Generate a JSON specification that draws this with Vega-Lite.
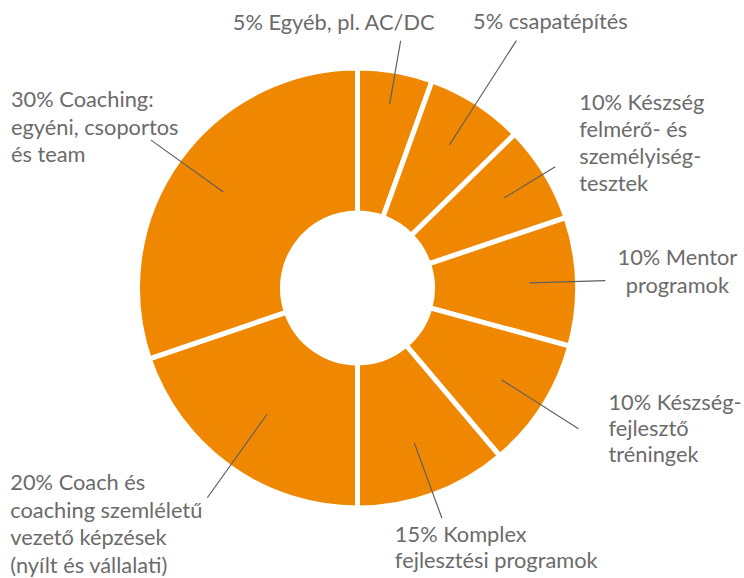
{
  "$schema": "https://vega.github.io/schema/vega-lite/v6.json",
  "width": 715,
  "height": 576,
  "autosize": {"type": "none"},
  "padding": {"left": 0, "top": 0, "right": 29, "bottom": 2},
  "background": "white",
  "config": {
    "view": {"stroke": null},
    "text": {"font": "Lato", "fontSize": 21.8, "fill": "#6b6b6b", "lineBreak": "\n", "lineHeight": 27, "baseline": "alphabetic"}
  },
  "data": {
    "values": [
      {"order": 1, "cat": "egyeb", "label": "5% Egyéb, pl. AC/DC", "share": 5.5},
      {"order": 2, "cat": "csapat", "label": "5% csapatépítés", "share": 7.17},
      {"order": 3, "cat": "felmero", "label": "10% Készség\nfelmérő- és\nszemélyiség-\ntesztek", "share": 7.14},
      {"order": 4, "cat": "mentor", "label": "10% Mentor\nprogramok", "share": 9.44},
      {"order": 5, "cat": "fejleszto", "label": "10% Készség-\nfejlesztő\ntréningek", "share": 9.56},
      {"order": 6, "cat": "komplex", "label": "15% Komplex\nfejlesztési programok", "share": 11.19},
      {"order": 7, "cat": "coach", "label": "20% Coach és\ncoaching szemléletű\nvezető képzések\n(nyílt és vállalati)", "share": 19.78},
      {"order": 8, "cat": "coaching", "label": "30% Coaching:\negyéni, csoportos\nés team", "share": 30.22}
    ]
  },
  "transform": [
    {"stack": "share", "groupby": [], "sort": [{"field": "order", "order": "ascending"}], "as": ["s0", "s1"]},
    {"fold": ["s0", "s1"], "as": ["edge", "pos"]},
    {"aggregate": [{"op": "mean", "field": "pos", "as": "mid"}], "groupby": ["order", "cat", "label", "share", "s0", "s1"]}
  ],
  "layer": [
    {
      "mark": {"type": "arc", "innerRadius": 75, "outerRadius": 220, "fill": "#F08700", "stroke": "#ffffff", "strokeWidth": 5},
      "encoding": {
        "theta": {"field": "s0", "type": "quantitative", "stack": null, "scale": {"domain": [0, 100]}},
        "theta2": {"field": "s1"}
      }
    },
    {
      "transform": [{"filter": "datum.cat === 'egyeb'"}],
      "encoding": {"theta": {"field": "mid", "type": "quantitative", "stack": null, "scale": {"domain": [0, 100]}}},
      "layer": [
        {"mark": {"type": "arc", "innerRadius": 187, "outerRadius": 251, "fillOpacity": 0, "stroke": "#5f5f5f", "strokeWidth": 1.2}, "encoding": {"theta2": {"field": "mid"}}},
        {"mark": {"type": "text", "radius": 251, "dx": -67, "dy": -11, "align": "center"}, "encoding": {"text": {"field": "label"}}}
      ]
    },
    {
      "transform": [{"filter": "datum.cat === 'csapat'"}],
      "encoding": {"theta": {"field": "mid", "type": "quantitative", "stack": null, "scale": {"domain": [0, 100]}}},
      "layer": [
        {"mark": {"type": "arc", "innerRadius": 170, "outerRadius": 294, "fillOpacity": 0, "stroke": "#5f5f5f", "strokeWidth": 1.2}, "encoding": {"theta2": {"field": "mid"}}},
        {"mark": {"type": "text", "radius": 294, "dx": 34, "dy": -12, "align": "center"}, "encoding": {"text": {"field": "label"}}}
      ]
    },
    {
      "transform": [{"filter": "datum.cat === 'felmero'"}],
      "encoding": {"theta": {"field": "mid", "type": "quantitative", "stack": null, "scale": {"domain": [0, 100]}}},
      "layer": [
        {"mark": {"type": "arc", "innerRadius": 172, "outerRadius": 232, "fillOpacity": 0, "stroke": "#5f5f5f", "strokeWidth": 1.2}, "encoding": {"theta2": {"field": "mid"}}},
        {"mark": {"type": "text", "radius": 232, "dx": 24, "dy": -57, "align": "left"}, "encoding": {"text": {"field": "label"}}}
      ]
    },
    {
      "transform": [{"filter": "datum.cat === 'mentor'"}],
      "encoding": {"theta": {"field": "mid", "type": "quantitative", "stack": null, "scale": {"domain": [0, 100]}}},
      "layer": [
        {"mark": {"type": "arc", "innerRadius": 172, "outerRadius": 248, "fillOpacity": 0, "stroke": "#5f5f5f", "strokeWidth": 1.2}, "encoding": {"theta2": {"field": "mid"}}},
        {"mark": {"type": "text", "radius": 248, "dx": 72, "dy": -16, "align": "center", "lineHeight": 28}, "encoding": {"text": {"field": "label"}}}
      ]
    },
    {
      "transform": [{"filter": "datum.cat === 'fejleszto'"}],
      "encoding": {"theta": {"field": "mid", "type": "quantitative", "stack": null, "scale": {"domain": [0, 100]}}},
      "layer": [
        {"mark": {"type": "arc", "innerRadius": 171, "outerRadius": 262, "fillOpacity": 0, "stroke": "#5f5f5f", "strokeWidth": 1.2}, "encoding": {"theta2": {"field": "mid"}}},
        {"mark": {"type": "text", "radius": 262, "dx": 30, "dy": -19, "align": "left", "lineHeight": 26}, "encoding": {"text": {"field": "label"}}}
      ]
    },
    {
      "transform": [{"filter": "datum.cat === 'komplex'"}],
      "encoding": {"theta": {"field": "mid", "type": "quantitative", "stack": null, "scale": {"domain": [0, 100]}}},
      "layer": [
        {"mark": {"type": "arc", "innerRadius": 165, "outerRadius": 245, "fillOpacity": 0, "stroke": "#5f5f5f", "strokeWidth": 1.2}, "encoding": {"theta2": {"field": "mid"}}},
        {"mark": {"type": "text", "radius": 245, "dx": -47, "dy": 24, "align": "left", "lineHeight": 26}, "encoding": {"text": {"field": "label"}}}
      ]
    },
    {
      "transform": [{"filter": "datum.cat === 'coach'"}],
      "encoding": {"theta": {"field": "mid", "type": "quantitative", "stack": null, "scale": {"domain": [0, 100]}}},
      "layer": [
        {"mark": {"type": "arc", "innerRadius": 155, "outerRadius": 258, "fillOpacity": 0, "stroke": "#5f5f5f", "strokeWidth": 1.2}, "encoding": {"theta2": {"field": "mid"}}},
        {"mark": {"type": "text", "radius": 258, "dx": -197, "dy": -8, "align": "left", "lineHeight": 27.8}, "encoding": {"text": {"field": "label"}}}
      ]
    },
    {
      "transform": [{"filter": "datum.cat === 'coaching'"}],
      "encoding": {"theta": {"field": "mid", "type": "quantitative", "stack": null, "scale": {"domain": [0, 100]}}},
      "layer": [
        {"mark": {"type": "arc", "innerRadius": 165, "outerRadius": 254, "fillOpacity": 0, "stroke": "#5f5f5f", "strokeWidth": 1.2}, "encoding": {"theta2": {"field": "mid"}}},
        {"mark": {"type": "text", "radius": 254, "dx": -140, "dy": -33, "align": "left", "lineHeight": 27.5}, "encoding": {"text": {"field": "label"}}}
      ]
    }
  ]
}
